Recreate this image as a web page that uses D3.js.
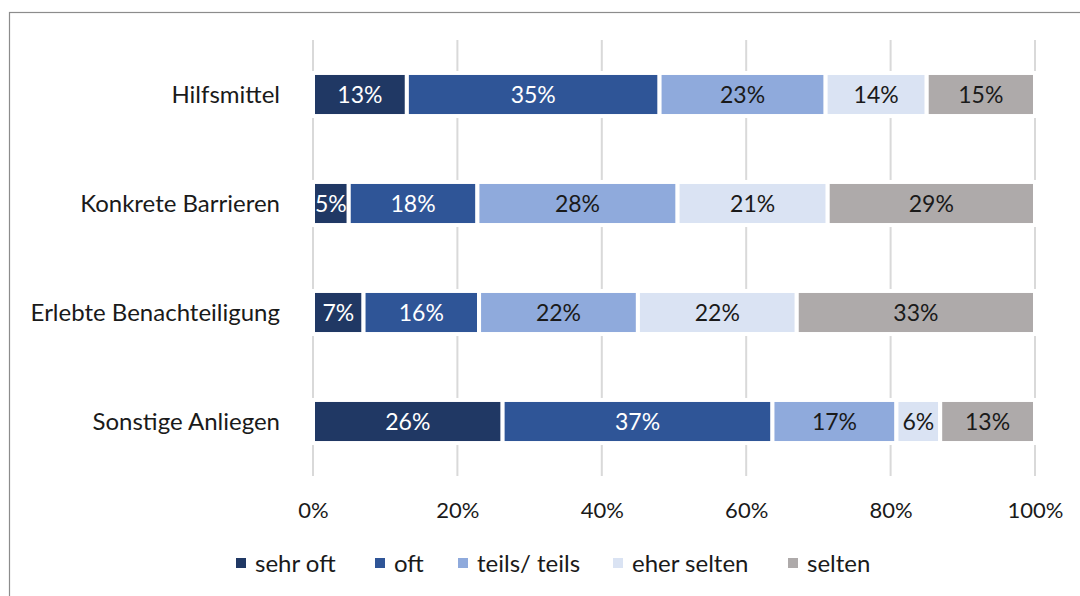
<!DOCTYPE html>
<html>
<head>
<meta charset="utf-8">
<script src="https://cdn.jsdelivr.net/npm/d3@7"></script>
<style>
  html, body { margin: 0; padding: 0; background: #fff; }
  svg { display: block; font-family: Lato, "Open Sans", sans-serif; }
</style>
</head>
<body>
<svg id="chart" width="1080" height="596"></svg>
<script>
// Survey topics and answer frequencies (percent)
const categories = ["Hilfsmittel", "Konkrete Barrieren", "Erlebte Benachteiligung", "Sonstige Anliegen"];
const seriesNames = ["sehr oft", "oft", "teils/ teils", "eher selten", "selten"];
const sehrOft    = [13, 5, 7, 26];
const oft        = [35, 18, 16, 37];
const teilsTeils = [23, 28, 22, 17];
const eherSelten = [14, 21, 22, 6];
const selten     = [15, 29, 33, 13];
const tickLabels = ["0%", "20%", "40%", "60%", "80%", "100%"];
const seriesColors = ["#203864", "#2F5597", "#8FAADC", "#DAE3F3", "#AEAAAA"];
const labelColors  = ["#ffffff", "#ffffff", "#1a1a1a", "#1a1a1a", "#1a1a1a"];

const seriesValues = [sehrOft, oft, teilsTeils, eherSelten, selten];
const rows = categories.map((c, i) => {
  const r = { category: c };
  seriesNames.forEach((s, j) => { r[s] = seriesValues[j][i]; });
  return r;
});

const svg = d3.select("#chart");
const plotLeft = 313, plotRight = 1035, plotTop = 40, plotBottom = 476;

// Outer frame
svg.append("rect")
  .attr("x", 9.5).attr("y", 12.5)
  .attr("width", 1100).attr("height", 700)
  .attr("fill", "none").attr("stroke", "#8c8c8c").attr("stroke-width", 1.2);

const x = d3.scaleLinear().domain([0, 1]).range([plotLeft, plotRight]);
const y = d3.scaleBand().domain(categories).range([plotTop, plotBottom]).paddingInner(0.605).paddingOuter(0.3025);

// 100% stacking, like a percent-stacked bar chart
const stack = d3.stack().keys(seriesNames).offset(d3.stackOffsetExpand);
const stacked = stack(rows);

// Vertical gridlines
const tickVals = d3.range(0, 1.0001, 0.2);
svg.append("g").selectAll("line")
  .data(tickVals)
  .join("line")
  .attr("x1", d => x(d)).attr("x2", d => x(d))
  .attr("y1", plotTop).attr("y2", plotBottom)
  .attr("stroke", "#d9d9d9").attr("stroke-width", 2);

// Bars
const layers = svg.append("g").selectAll("g")
  .data(stacked)
  .join("g")
  .attr("fill", (d, i) => seriesColors[i]);

layers.selectAll("rect")
  .data(d => d.map(p => ({ p, key: d.key })))
  .join("rect")
  .attr("x", d => x(d.p[0]))
  .attr("y", d => y(d.p.data.category))
  .attr("width", d => x(d.p[1]) - x(d.p[0]))
  .attr("height", y.bandwidth())
  .attr("stroke", "#ffffff").attr("stroke-width", 4);

// Value labels
layers.each(function(layer, i) {
  d3.select(this).selectAll("text")
    .data(layer)
    .join("text")
    .attr("x", p => (x(p[0]) + x(p[1])) / 2)
    .attr("y", p => y(p.data.category) + y.bandwidth() / 2)
    .attr("dy", "0.36em")
    .attr("text-anchor", "middle")
    .attr("font-size", 23)
    .attr("fill", labelColors[i])
    .text(p => p.data[layer.key] + "%");
});

// Category labels
svg.append("g").selectAll("text")
  .data(categories)
  .join("text")
  .attr("x", 280)
  .attr("y", d => y(d) + y.bandwidth() / 2)
  .attr("dy", "0.36em")
  .attr("text-anchor", "end")
  .attr("font-size", 24)
  .attr("fill", "#1a1a1a")
  .text(d => d);

// Bottom axis labels
const axis = d3.axisBottom(x).tickValues(tickVals).tickSize(0).tickPadding(0)
  .tickFormat((d, i) => tickLabels[i]);
const ax = svg.append("g").attr("transform", `translate(0, 510)`).call(axis);
ax.select(".domain").remove();
ax.selectAll("text")
  .attr("font-size", 22).attr("fill", "#1a1a1a")
  .attr("font-family", "Lato, 'Open Sans', sans-serif")
  .attr("dy", "0.36em");

// Legend
const legendX = [236, 375, 458, 613, 788];
const legend = svg.append("g").selectAll("g")
  .data(seriesNames)
  .join("g")
  .attr("transform", (d, i) => `translate(${legendX[i]}, 563)`);
legend.append("rect")
  .attr("x", 0).attr("y", -5).attr("width", 10).attr("height", 10)
  .attr("fill", (d, i) => seriesColors[i]);
legend.append("text")
  .attr("x", 19).attr("dy", "0.36em")
  .attr("font-size", 24).attr("fill", "#1a1a1a")
  .text(d => d);
</script>
</body>
</html>
